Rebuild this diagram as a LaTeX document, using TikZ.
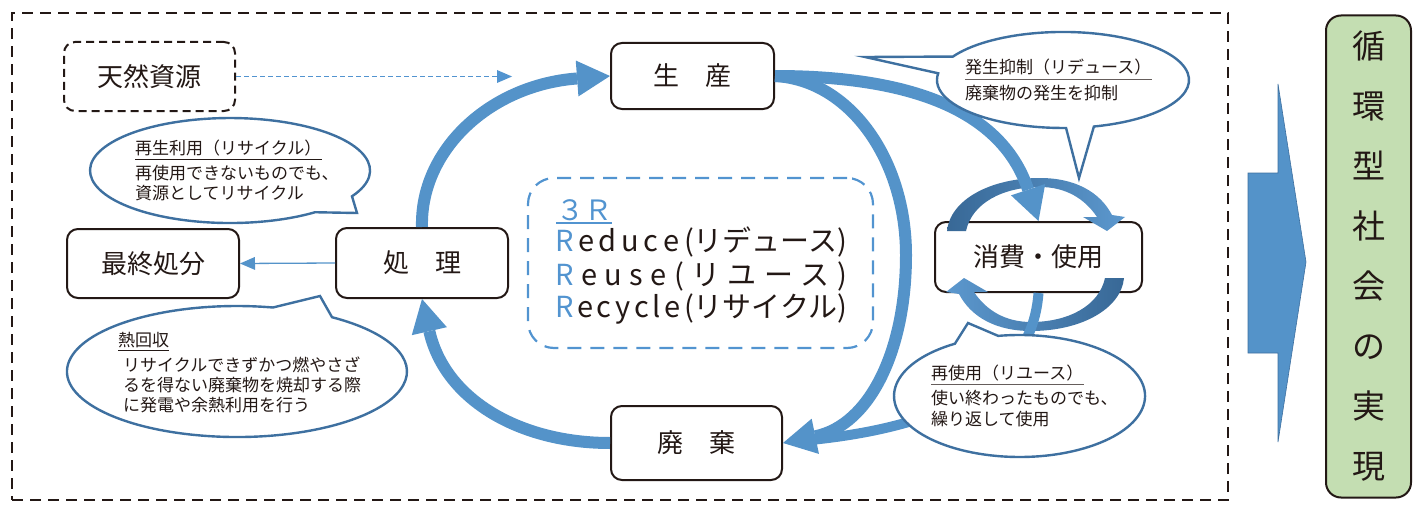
\documentclass[tikz,border=0pt]{standalone}
\usepackage{fontspec}
\setmainfont{Noto Sans CJK JP}
\usetikzlibrary{arrows.meta}
\definecolor{ink}{RGB}{35,24,21}
\definecolor{flow}{RGB}{84,147,201}
\definecolor{cline}{RGB}{62,112,160}
\definecolor{rblue}{RGB}{82,148,208}
\definecolor{arcdark}{RGB}{56,104,150}
\definecolor{arclight}{RGB}{92,152,206}
\definecolor{lgreen}{RGB}{196,222,178}
\newcommand{\bluR}{\textcolor{rblue}{R}}
\begin{document}
\begin{tikzpicture}[x=1pt,y=-1pt,
  box/.style={draw=ink, line width=2pt, rounded corners=11pt, fill=white, text=ink, font=\fontsize{26}{30}\selectfont, inner sep=0pt},
  flowarr/.style={draw=flow, line width=12pt, -{Triangle[length=33pt,width=36pt,line width=0pt]}},
  thinarr/.style={draw=flow, line width=1.3pt, -{Triangle[length=15pt,width=13pt,line width=0pt]}},
  callout/.style={draw=cline, line width=2.4pt, fill=white, line join=miter},
  ctitle/.style={anchor=west, inner sep=0pt, text=ink, font=\fontsize{17}{20}\selectfont},
  cbody/.style={anchor=west, inner sep=0pt, text=ink, align=left, font=\fontsize{17}{20}\selectfont},
  uline/.style={draw=ink, line width=0.9pt},
  rline/.style={anchor=west, inner sep=0pt, text=ink, font=\fontsize{29}{32}\selectfont},
]
\useasboundingbox (0,0) rectangle (1414,511);

% outer dashed frame
\node[draw=ink, line width=2.6pt, dash pattern=on 11pt off 7pt, minimum width=1216pt, minimum height=487pt, inner sep=0pt] (frame) at (620,256.5) {};

% boxes
\node[box, dash pattern=on 8pt off 5pt, minimum width=171pt, minimum height=69pt] (tennen) at (149.5,76.5) {天然資源};
\node[box, minimum width=163pt, minimum height=66pt] (sei) at (692.5,76) {生　産};
\node[box, minimum width=172pt, minimum height=69pt] (saishu) at (153,263.5) {最終処分};
\node[box, minimum width=172pt, minimum height=70pt] (shori) at (422,263) {処　理};
\node[box, minimum width=171pt, minimum height=74pt] (haiki) at (696.5,443) {廃　棄};
\node[box, minimum width=207pt, minimum height=70pt] (shohi) at (1038.5,257) {消費・使用};
\node[box, fill=lgreen, rounded corners=15pt, minimum width=85pt, minimum height=482pt, align=center, font=\fontsize{33}{60}\selectfont] (goal) at (1368.5,256.5) {循\\環\\型\\社\\会\\の\\実\\現};

% big right arrow
\draw[fill=flow, draw=cline, line width=0.6pt] (1248,173) -- (1278,173) -- (1278,84) -- (1306,262) -- (1278,442) -- (1278,353) -- (1248,353) -- cycle;

% circular arrows around consumption
\shade[left color=arcdark, right color=arclight] (947,231) .. controls (950,200) and (990,178) .. (1040,178) .. controls (1075,178) and (1100,192) .. (1112,215) -- (1125,217) -- (1107,231) -- (1083,217) -- (1097,217) .. controls (1085,199) and (1066,187) .. (1040,187) .. controls (1003,187) and (972,203) .. (966,231) -- cycle;
\shade[left color=arclight, right color=arcdark] (1124,278) .. controls (1121,309) and (1081,331) .. (1031,331) .. controls (996,331) and (971,317) .. (959,294) -- (946,292) -- (964,278) -- (988,292) -- (974,292) .. controls (986,310) and (1005,322) .. (1031,322) .. controls (1068,322) and (1099,306) .. (1105,278) -- cycle;

% flow arrows
\draw[flowarr] (shori.north) .. controls (420,150) and (490,85) .. (sei.west);
\draw[flowarr] (haiki.west) .. controls (520,443) and (445,400) .. (shori.south);
\draw[flowarr] (sei.east) .. controls (850,80) and (906,160) .. (906,255) .. controls (906,350) and (870,425) .. (haiki.east);
\draw[flowarr] (sei.east) .. controls (900,76) and (1000,105) .. (shohi.north);
\draw[draw=flow, line width=10pt, shorten >=32pt] (shohi.south) .. controls (1032,380) and (950,425) .. (haiki.east);

\coordinate (natend) at (512,76.5);
\draw[thinarr, draw=rblue, dash pattern=on 5pt off 3pt] (tennen.east) -- (natend);
\draw[thinarr] (shori.west) -- (saishu.east);

% callouts
\draw[callout] (352.0,196.3) arc[start angle=-29.4, end angle=307.4, x radius=140pt, y radius=52.5pt] -- (357,213) -- cycle;
\draw[callout] (272.9,307.5) arc[start angle=77.8, end angle=416, x radius=170pt, y radius=65.5pt] -- (320,296) -- cycle;
\draw[callout] (938.2,73.3) arc[start angle=172, end angle=271.4, x radius=126pt, y radius=48pt] -- (1079,178) -- (1093.9,126.5) arc[start angle=284.2, end angle=510.8, x radius=126pt, y radius=48pt] -- (865,57) -- cycle;
\draw[callout] (954.9,343.7) arc[start angle=121, end angle=459.8, x radius=125.5pt, y radius=61pt] -- (968,323) -- cycle;

\node[ctitle] (tA) at (135,148) {再生利用（リサイクル）};
\draw[uline] ([yshift=-11pt]tA.west) -- ([yshift=-11pt]tA.east);
\node[cbody] (bA) at (135,183) {再使用できないものでも、\\資源としてリサイクル};

\node[ctitle] (tB) at (118,340) {熱回収};
\draw[uline] ([yshift=-10pt]tB.west) -- ([yshift=-10pt]tB.east);
\node[cbody] (bB) at (123,385) {リサイクルできずかつ燃やさざ\\るを得ない廃棄物を焼却する際\\に発電や余熱利用を行う};

\node[ctitle] (tC) at (965,67.5) {発生抑制（リデュース）};
\draw[uline, draw=ink!70] ([yshift=-12pt]tC.west) -- ([yshift=-12pt]tC.east);
\node[cbody] (bC) at (965,93) {廃棄物の発生を抑制};

\node[ctitle] (tD) at (931,373) {再使用（リユース）};
\draw[uline, draw=ink!70] ([yshift=-11pt]tD.west) -- ([yshift=-11pt]tD.east);
\node[cbody, font=\fontsize{17}{21}\selectfont] (bD) at (931,408.5) {使い終わったものでも、\\繰り返して使用};

% 3R box
\node[draw=rblue, line width=2.2pt, dash pattern=on 14pt off 9pt, rounded corners=26pt, minimum width=345pt, minimum height=170pt, inner sep=0pt] (threeR) at (700.5,263) {};
\node[anchor=west, inner sep=0pt, text=rblue, font=\fontsize{28}{30}\selectfont] (tR) at (556,210) {３Ｒ};
\draw[draw=rblue, line width=1.3pt] ([yshift=-13pt]tR.west) -- ([yshift=-13pt]tR.east);
\node[rline] (r1) at (555,242) {\makebox[292pt][s]{\bluR\hfil e\hfil d\hfil u\hfil c\hfil e\hfil(リデュース)}};
\node[rline] (r2) at (555,276) {\makebox[292pt][s]{\bluR\hfil e\hfil u\hfil s\hfil e\hfil(\hfil リ\hfil ユ\hfil ー\hfil ス\hfil)}};
\node[rline] (r3) at (555,309.5) {\makebox[292pt][s]{\bluR\hfil e\hfil c\hfil y\hfil c\hfil l\hfil e\hfil(リサイクル)}};
\end{tikzpicture}
\end{document}
